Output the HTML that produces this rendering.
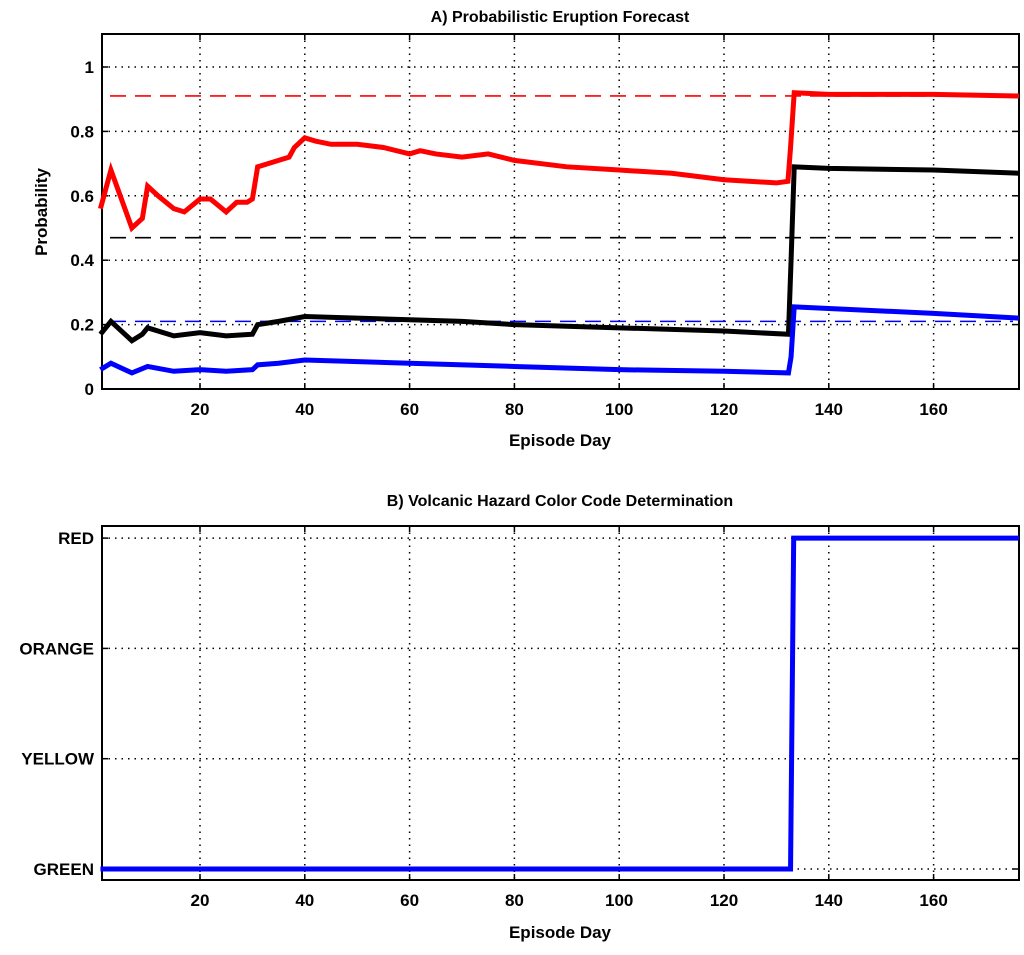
<!DOCTYPE html>
<html><head><meta charset="utf-8"><style>
body{margin:0;background:#fff}
svg text{font-family:"Liberation Sans",sans-serif;font-weight:bold;fill:#000}
</style></head><body>
<svg id="c" width="1024" height="950" xmlns="http://www.w3.org/2000/svg"></svg>
<script>
const redDays=[1,3,7,9,10,12,15,17,20,22,25,27,29,30,31,33,35,37,38,40,42,45,50,55,60,62,65,70,75,80,90,100,110,120,130,132.2,132.7,133.4,140,160,176.3];
const redVals=[0.56,0.68,0.5,0.53,0.63,0.6,0.56,0.55,0.59,0.59,0.55,0.58,0.58,0.59,0.69,0.7,0.71,0.72,0.75,0.78,0.77,0.76,0.76,0.75,0.73,0.74,0.73,0.72,0.73,0.71,0.69,0.68,0.67,0.65,0.64,0.645,0.75,0.92,0.915,0.915,0.91];
const blackDays=[1,3,7,9,10,15,20,25,30,31,35,40,50,60,70,80,100,120,132.3,132.8,133.4,140,160,176.3];
const blackVals=[0.17,0.21,0.15,0.17,0.19,0.165,0.175,0.165,0.17,0.2,0.21,0.225,0.22,0.215,0.21,0.2,0.19,0.18,0.17,0.4,0.69,0.685,0.68,0.67];
const blueDays=[1,3,7,10,15,20,25,30,31,35,40,60,80,100,120,132.3,132.8,133.4,140,160,176.3];
const blueVals=[0.06,0.08,0.05,0.07,0.055,0.06,0.055,0.06,0.075,0.08,0.09,0.08,0.07,0.06,0.055,0.05,0.1,0.255,0.25,0.235,0.22];
const thresholds=[0.91,0.47,0.21];
const thresholdColors=['#f00','#000','#00f'];
const codeDays=[1,132.7,133.3,176.3];
const codeVals=[0,0,3,3];
const codeLabels=['GREEN','YELLOW','ORANGE','RED'];
const xTicks=[20,40,60,80,100,120,140,160];
const yTicks=[0,0.2,0.4,0.6,0.8,1];

const svg=document.getElementById('c');
const NS='http://www.w3.org/2000/svg';
function mk(t,a,p){const e=document.createElementNS(NS,t);for(const k in a)e.setAttribute(k,a[k]);(p||svg).appendChild(e);return e;}
const L=102,R=1019;
const xs=v=>95.2+5.24*v;
const yA=v=>389-322*v;
const yB=v=>869-110.3*v;

function axes(top,bot,ysc,ticks,labels,name){
  const g=mk('g',{});
  
  
  xTicks.forEach(t=>{
    mk('line',{x1:xs(t),x2:xs(t),y1:top,y2:bot,stroke:'#000','stroke-width':1.5,'stroke-dasharray':'1.5 5'},g);
    mk('line',{x1:xs(t),x2:xs(t),y1:bot,y2:bot-6,stroke:'#000','stroke-width':1.5},g);
    mk('line',{x1:xs(t),x2:xs(t),y1:top,y2:top+6,stroke:'#000','stroke-width':1.5},g);
    const tx=mk('text',{x:xs(t),y:bot+26,'text-anchor':'middle','font-size':17},g);tx.textContent=t;
    
    
  });
  ticks.forEach((t,i)=>{
    const y=ysc(t);
    mk('line',{x1:L,x2:R,y1:y,y2:y,stroke:'#000','stroke-width':1.5,'stroke-dasharray':'1.5 5'},g);
    mk('line',{x1:L,x2:L+6,y1:y,y2:y,stroke:'#000','stroke-width':1.5},g);
    mk('line',{x1:R,x2:R-6,y1:y,y2:y,stroke:'#000','stroke-width':1.5},g);
    const tx=mk('text',{x:L-8,y:y+6,'text-anchor':'end','font-size':17},g);tx.textContent=labels[i];
    
    
  });
  mk('rect',{x:L,y:top,width:R-L,height:bot-top,fill:'none',stroke:'#000','stroke-width':2},g);
}
function line(days,vals,ysc,color,name){
  const p=mk('polyline',{points:days.map((d,i)=>xs(d)+','+ysc(vals[i])).join(' '),fill:'none',stroke:color,'stroke-width':5,'stroke-linejoin':'miter'});
  
  
}
axes(34,389,yA,yTicks,yTicks.map(String),'panel-a-axes');
thresholds.forEach((t,i)=>{
  const l=mk('line',{x1:L+8,x2:R-6,y1:yA(t),y2:yA(t),stroke:thresholdColors[i],'stroke-width':1.6,'stroke-dasharray':'16 9'});
  
  
});
line(redDays,redVals,yA,'#f00','red-series');
line(blackDays,blackVals,yA,'#000','black-series');
line(blueDays,blueVals,yA,'#00f','blue-series');
axes(526,880,yB,[0,1,2,3],codeLabels,'panel-b-axes');
line(codeDays,codeVals,yB,'#00f','color-code-series');

function txt(x,y,s,name,extra){const t=mk('text',Object.assign({x:x,y:y,'text-anchor':'middle','font-size':16},extra||{}));t.textContent=s;
  
  }
txt(560,22,'A) Probabilistic Eruption Forecast','title-a');
txt(560,446,'Episode Day','x-axis-title-a',{'font-size':17});
txt(560,506,'B) Volcanic Hazard Color Code Determination','title-b');
txt(560,938,'Episode Day','x-axis-title-b',{'font-size':17});
txt(0,0,'Probability','y-axis-title-a',{'font-size':17,transform:'translate(47,212) rotate(-90)'});
</script>
</body></html>
